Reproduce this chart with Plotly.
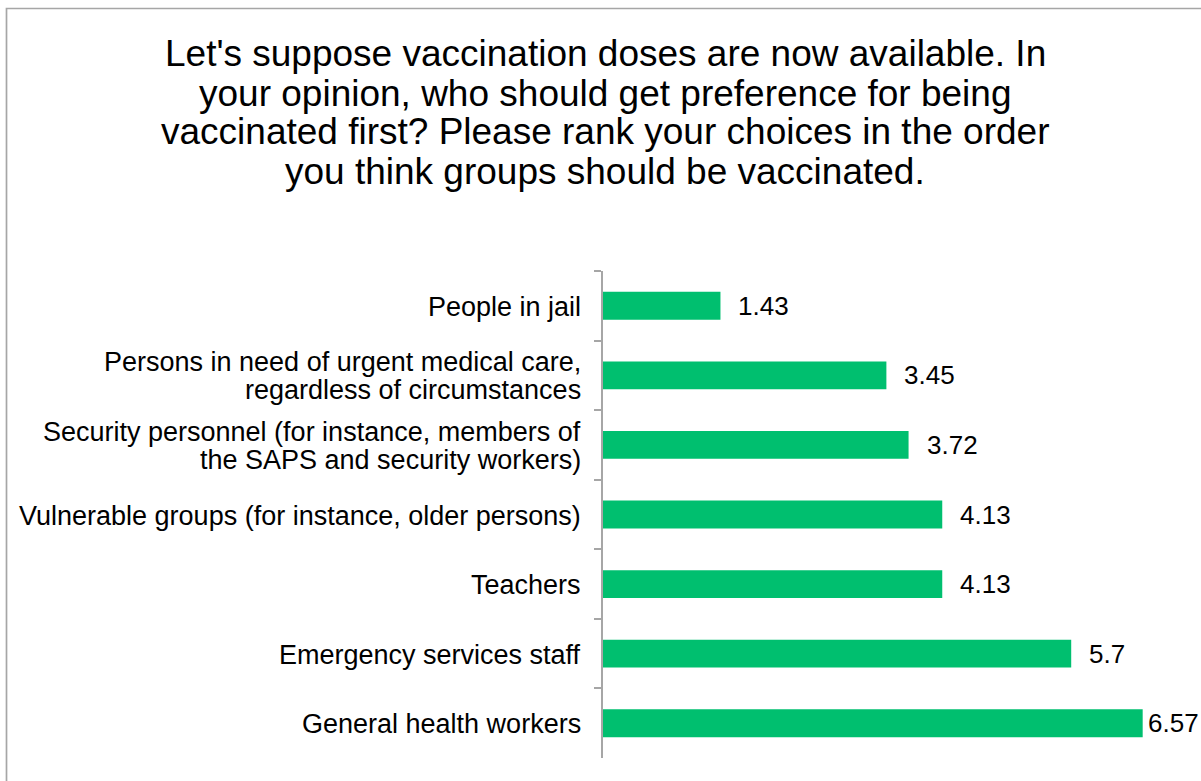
import plotly.graph_objects as go

# Mean preference rank per group (higher = should be vaccinated earlier)
groups = [
    "People in jail",
    "Persons in need of urgent medical care, regardless of circumstances",
    "Security personnel (for instance, members of the SAPS and security workers)",
    "Vulnerable groups (for instance, older persons)",
    "Teachers",
    "Emergency services staff",
    "General health workers",
]
group_lines = [
    ["People in jail"],
    ["Persons in need of urgent medical care,", "regardless of circumstances"],
    ["Security personnel (for instance, members of", "the SAPS and security workers)"],
    ["Vulnerable groups (for instance, older persons)"],
    ["Teachers"],
    ["Emergency services staff"],
    ["General health workers"],
]
scores = [1.43, 3.45, 3.72, 4.13, 4.13, 5.7, 6.57]
score_labels = ["1.43", "3.45", "3.72", "4.13", "4.13", "5.7", "6.57"]

title_lines = [
    "Let's suppose vaccination doses are now available. In",
    "your opinion, who should get preference for being",
    "vaccinated first? Please rank your choices in the order",
    "you think groups should be vaccinated.",
]

W, H = 1201, 781
ML, MR, MT, MB = 603, 23, 271, 23
PW, PH = W - ML - MR, H - MT - MB
X_MAX = 7
FONT = "Liberation Sans, Arial, sans-serif"
GREEN = "#00BF6F"
GREY = "#A6A6A6"


def px_x(px):
    return (px - ML) / PW


def px_y(py):
    return (H - MB - py) / PH


fig = go.Figure(
    go.Bar(
        x=scores,
        y=groups,
        orientation="h",
        marker=dict(color=GREEN, line=dict(width=0)),
        hoverinfo="skip",
    )
)

# Category labels, right-aligned against the axis, wrapped lines set close together
LINE_GAP = 28
for g, lines in zip(groups, group_lines):
    n = len(lines)
    for i, line in enumerate(lines):
        fig.add_annotation(
            xref="paper", x=0, y=g, text=line, showarrow=False,
            xanchor="right", yanchor="middle",
            xshift=-20, yshift=((n - 1) / 2 - i) * LINE_GAP - 1,
            font=dict(family=FONT, size=27, color="#000000"),
        )

# Value labels just past the end of each bar; the longest bar gets a tighter gap
top = max(scores)
for g, v, lab in zip(groups, scores, score_labels):
    fig.add_annotation(
        x=v, y=g, text=lab, showarrow=False,
        xanchor="left", yanchor="middle",
        xshift=16 if v < top else 3,
        font=dict(family=FONT, size=26, color="#000000"),
    )

# Chart title, one line at a time for tight line spacing
TITLE_TOP, TITLE_STEP = 54, 39
for i, line in enumerate(title_lines):
    fig.add_annotation(
        xref="paper", yref="paper",
        x=px_x(605), y=px_y(TITLE_TOP + i * TITLE_STEP),
        text=line, showarrow=False,
        xanchor="center", yanchor="middle",
        font=dict(family=FONT, size=37, color="#000000"),
    )

# Outer frame of the chart area
fig.add_shape(
    type="rect", xref="paper", yref="paper",
    x0=px_x(6.5), x1=px_x(W + 5),
    y0=px_y(H + 5), y1=px_y(8.5),
    line=dict(color=GREY, width=1.7), fillcolor="rgba(0,0,0,0)",
    layer="below",
)

fig.update_layout(
    width=W, height=H,
    margin=dict(l=ML, r=MR, t=MT, b=MB),
    paper_bgcolor="white", plot_bgcolor="white",
    bargap=0.6,
    showlegend=False,
    xaxis=dict(range=[0, X_MAX], visible=False, fixedrange=True),
    yaxis=dict(
        autorange="reversed",
        showline=True, linecolor=GREY, linewidth=1.5,
        ticks="outside", ticklen=7, tickcolor=GREY, tickwidth=1.5,
        tickson="boundaries",
        showgrid=False, zeroline=False,
        showticklabels=False,
    ),
)

fig.write_html("out.html")
